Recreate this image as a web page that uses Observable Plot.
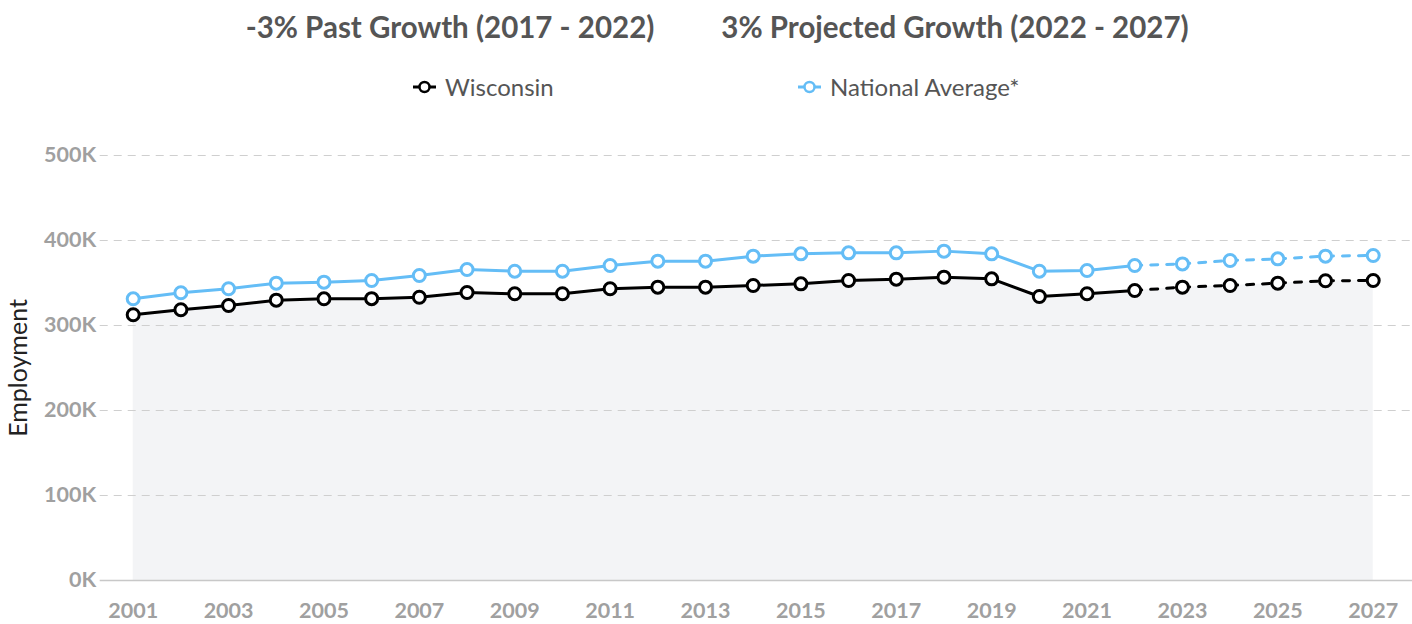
<!DOCTYPE html>
<html>
<head>
<meta charset="utf-8">
<script src="https://cdn.jsdelivr.net/npm/d3@7"></script>
<script src="https://cdn.jsdelivr.net/npm/@observablehq/plot@0.6"></script>
<style>
  html, body { margin: 0; padding: 0; background: #fff; }
  body { width: 1412px; height: 624px; position: relative; font-family: Lato, "Open Sans", sans-serif; overflow: hidden; }
  .title { position: absolute; top: 7px; font-size: 29.5px; font-weight: 700; color: #555; white-space: nowrap; transform: translateX(-50%); line-height: 40px; }
  .legend { position: absolute; top: 71px; font-size: 24px; line-height: 32px; color: #555; white-space: nowrap; display: flex; align-items: center; }
  .legend svg { margin-right: 8px; }
  #chart { position: absolute; left: 0; top: 125px; }
</style>
</head>
<body>
<div class="title" style="left:450px">-3% Past Growth (2017 - 2022)</div>
<div class="title" style="left:955px">3% Projected Growth (2022 - 2027)</div>
<div class="legend" style="left:412px"><svg width="25" height="16"><line x1="1" x2="24" y1="8" y2="8" stroke="#000" stroke-width="3"/><circle cx="12.5" cy="8" r="5" fill="#fff" stroke="#000" stroke-width="2.5"/></svg>Wisconsin</div>
<div class="legend" style="left:797px"><svg width="25" height="16"><line x1="1" x2="24" y1="8" y2="8" stroke="#64bdf6" stroke-width="3"/><circle cx="12.5" cy="8" r="5" fill="#fff" stroke="#64bdf6" stroke-width="2.5"/></svg>National Average*</div>
<div id="chart"></div>
<script>
const years = [2001,2002,2003,2004,2005,2006,2007,2008,2009,2010,2011,2012,2013,2014,2015,2016,2017,2018,2019,2020,2021,2022,2023,2024,2025,2026,2027];
const wisconsin = [312.6,318.5,323.5,329.8,331.4,331.6,333.3,338.8,337.3,337.3,343.2,345.1,345.1,347.1,349.0,352.9,354.5,356.9,354.9,334.1,337.3,341.2,345.1,347.1,349.8,352.6,352.9];
const national = [331.4,338.5,343.2,349.8,351.0,352.9,358.8,365.9,363.9,363.9,370.6,375.7,375.7,381.6,384.3,385.5,385.5,387.5,384.3,363.9,364.7,370.6,372.5,376.5,378.4,381.6,382.4];
const lastActual = 2022;
const yTicks = [0,100,200,300,400,500];
const xTicks = [2001,2003,2005,2007,2009,2011,2013,2015,2017,2019,2021,2023,2025,2027];

const rows = years.map((y, i) => ({year: y, wi: wisconsin[i] * 1000, na: national[i] * 1000}));
const past = rows.filter(d => d.year <= lastActual);
const proj = rows.filter(d => d.year >= lastActual);

const BLUE = "#64bdf6";
const chart = Plot.plot({
  width: 1412,
  height: 499,
  marginLeft: 132.7,
  marginRight: 39.3,
  marginTop: 30,
  marginBottom: 44,
  style: {fontFamily: "Lato, sans-serif", background: "transparent"},
  x: {domain: [2001, 2027]},
  y: {domain: [0, 500000]},
  marks: [
    Plot.areaY(rows, {x: "year", y: "wi", fill: "#f3f4f6"}),
    Plot.ruleY(yTicks.filter(t => t > 0).map(t => t * 1000), {stroke: "#cfcfcf", strokeWidth: 1.2, strokeDasharray: "8,6", insetLeft: -33, insetRight: -40}),
    Plot.ruleY([0], {stroke: "#c8c8c8", strokeWidth: 1.5, insetLeft: -33, insetRight: -40}),
    Plot.axisY(yTicks.map(t => t * 1000), {tickSize: 0, tickPadding: 37, tickFormat: d => (d / 1000) + "K", fontSize: 21.5, fontWeight: 700, fill: "#a0a0a0", label: null}),
    Plot.axisX(xTicks, {tickSize: 0, tickPadding: 22, tickFormat: d => String(d), fontSize: 21.5, fontWeight: 700, fill: "#a0a0a0", label: null}),
    Plot.text(["Employment"], {frameAnchor: "left", dx: -114, rotate: -90, textAnchor: "middle", fontSize: 25, fill: "#222"}),
    Plot.line(past, {x: "year", y: "na", stroke: BLUE, strokeWidth: 3}),
    Plot.line(proj, {x: "year", y: "na", stroke: BLUE, strokeWidth: 3, strokeDasharray: "7,9"}),
    Plot.line(past, {x: "year", y: "wi", stroke: "#000", strokeWidth: 3}),
    Plot.line(proj, {x: "year", y: "wi", stroke: "#000", strokeWidth: 3, strokeDasharray: "7,9"}),
    Plot.dot(rows, {x: "year", y: "na", r: 6, fill: "#fff", stroke: BLUE, strokeWidth: 3}),
    Plot.dot(rows, {x: "year", y: "wi", r: 6, fill: "#fff", stroke: "#000", strokeWidth: 3})
  ]
});
document.getElementById("chart").appendChild(chart);
</script>
</body>
</html>
